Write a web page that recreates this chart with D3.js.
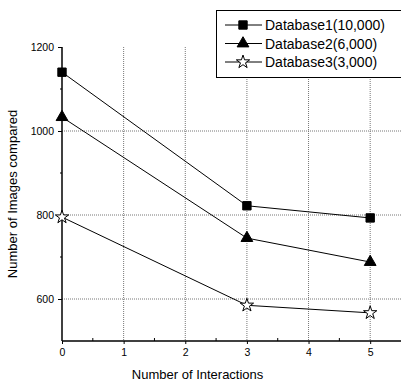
<!DOCTYPE html>
<html>
<head>
<meta charset="utf-8">
<script src="https://cdn.jsdelivr.net/npm/d3@7"></script>
<style>
body { margin: 0; background: #fff; }
text { font-family: "Liberation Sans", Arial, sans-serif; fill: #000; }
</style>
</head>
<body>
<div id="viz"></div>
<script>
var W = 401, H = 383;
var margin = {top: 47, right: 0, bottom: 42, left: 62};
var width = W - margin.left - margin.right,
    height = H - margin.top - margin.bottom;

// data
var interactions = [0, 3, 5];
var db1 = [1140, 822, 793];
var db2 = [1033, 745, 688];
var db3 = [795, 585, 567];
var seriesNames = ["Database1(10,000)", "Database2(6,000)", "Database3(3,000)"];
var xTicks = [0, 1, 2, 3, 4, 5];
var yTicks = [600, 800, 1000, 1200];

var svg = d3.select("#viz").append("svg")
    .attr("width", W)
    .attr("height", H);

var g = svg.append("g")
    .attr("transform", "translate(" + margin.left + "," + margin.top + ")");

var xScale = d3.scaleLinear().domain([0, 5.5]).range([0, width]);
var yScale = d3.scaleLinear().domain([500, 1200]).range([height, 0]);

// dotted grid
g.selectAll(".vgrid")
    .data(xTicks.slice(1))
    .enter().append("line")
    .attr("x1", function(d) { return xScale(d); })
    .attr("x2", function(d) { return xScale(d); })
    .attr("y1", 0).attr("y2", height)
    .attr("stroke", "#777").attr("stroke-width", 1)
    .attr("stroke-dasharray", "1,1");
g.selectAll(".hgrid")
    .data([600, 800, 1000])
    .enter().append("line")
    .attr("x1", 0).attr("x2", width)
    .attr("y1", function(d) { return yScale(d); })
    .attr("y2", function(d) { return yScale(d); })
    .attr("stroke", "#777").attr("stroke-width", 1)
    .attr("stroke-dasharray", "1,1");

// axes
var plain = function(d) { return String(d); };
var xAxis = d3.axisBottom(xScale).tickValues(xTicks).tickSize(3).tickPadding(5).tickFormat(plain);
var yAxis = d3.axisLeft(yScale).tickValues(yTicks).tickSize(4).tickPadding(4).tickFormat(plain);

var gx = g.append("g").attr("transform", "translate(0," + height + ")").call(xAxis);
var gy = g.append("g").call(yAxis);
[gx, gy].forEach(function(a) {
    a.select(".domain").attr("stroke", "#000").attr("stroke-width", 1.5);
    a.selectAll(".tick line").attr("stroke", "#000");
    a.selectAll(".tick text").style("font-size", "10.5px").style("font-family", "Liberation Sans, Arial, sans-serif");
});
gx.select(".domain").attr("d", "M0,0H" + width);
gy.select(".domain").attr("d", "M0,0V" + height);

// minor ticks
g.selectAll(".xminor")
    .data([0.5, 1.5, 2.5, 3.5, 4.5])
    .enter().append("line")
    .attr("x1", function(d) { return xScale(d); })
    .attr("x2", function(d) { return xScale(d); })
    .attr("y1", height).attr("y2", height - 3)
    .attr("stroke", "#000");
g.selectAll(".yminor")
    .data([700, 900, 1100])
    .enter().append("line")
    .attr("x1", 0).attr("x2", -2)
    .attr("y1", function(d) { return yScale(d); })
    .attr("y2", function(d) { return yScale(d); })
    .attr("stroke", "#000");

// axis titles
svg.append("text")
    .attr("x", margin.left + xScale(2.2))
    .attr("y", 379)
    .attr("text-anchor", "middle")
    .style("font-size", "13px")
    .text("Number of Interactions");
svg.append("text")
    .attr("transform", "translate(17," + (margin.top + height / 2) + ") rotate(-90)")
    .attr("text-anchor", "middle")
    .style("font-size", "13px")
    .text("Number of Images compared");

// series
var series = [db1, db2, db3];
var symbols = [d3.symbolSquare, d3.symbolTriangle, d3.symbolStar];
var symSize = [70, 60, 55];
var fills = ["#000", "#000", "#fff"];

var line = d3.line()
    .x(function(d, i) { return xScale(interactions[i]); })
    .y(function(d) { return yScale(d); });

series.forEach(function(s, k) {
    g.append("path")
        .datum(s)
        .attr("d", line)
        .attr("fill", "none")
        .attr("stroke", "#000")
        .attr("stroke-width", 1);
    g.selectAll(".m" + k)
        .data(s)
        .enter().append("path")
        .attr("transform", function(d, i) { return "translate(" + xScale(interactions[i]) + "," + yScale(d) + ")"; })
        .attr("d", d3.symbol().type(symbols[k]).size(symSize[k]))
        .attr("fill", fills[k])
        .attr("stroke", "#000")
        .attr("stroke-width", 1);
});

// legend
var lg = svg.append("g");
lg.append("rect")
    .attr("x", 216.5).attr("y", 10.5)
    .attr("width", 200).attr("height", 67)
    .attr("fill", "#fff").attr("stroke", "#000").attr("stroke-width", 1);
seriesNames.forEach(function(name, k) {
    var y = 25 + k * 18.5;
    lg.append("line")
        .attr("x1", 225).attr("x2", 262)
        .attr("y1", y).attr("y2", y)
        .attr("stroke", "#000");
    lg.append("path")
        .attr("transform", "translate(243," + y + ")")
        .attr("d", d3.symbol().type(symbols[k]).size(symSize[k]))
        .attr("fill", fills[k])
        .attr("stroke", "#000");
    lg.append("text")
        .attr("x", 265).attr("y", y + 5)
        .style("font-size", "14px")
        .text(name);
});
</script>
</body>
</html>
